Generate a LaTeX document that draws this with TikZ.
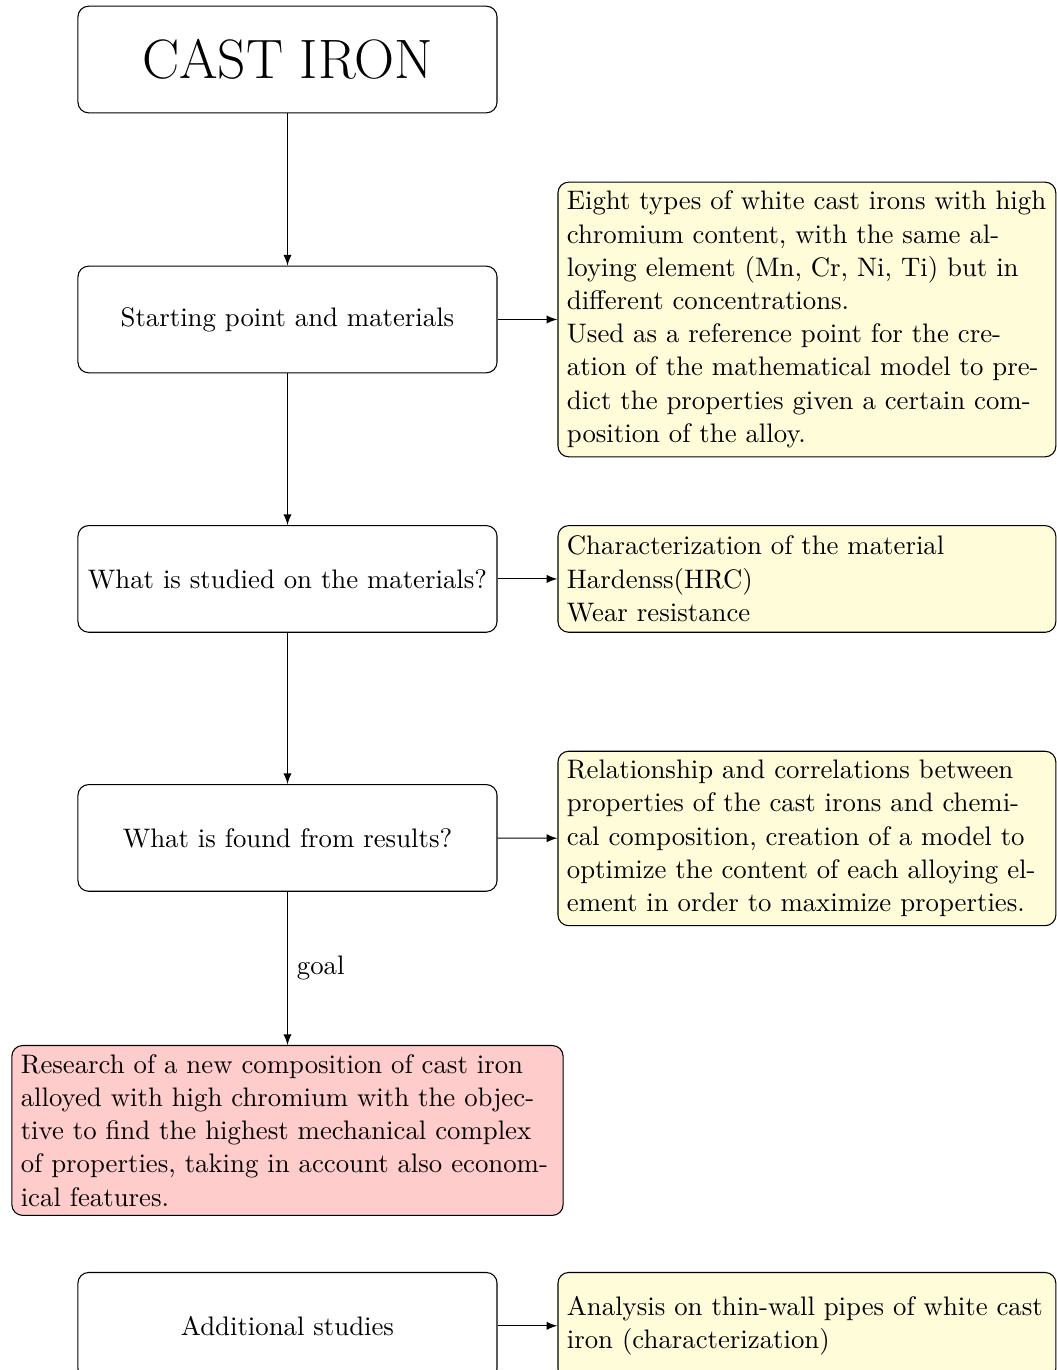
\documentclass[tikz,border=0pt]{standalone}
\begin{document}
\begin{tikzpicture}[
    block/.style={draw, rounded corners, minimum width=5.5cm, minimum height=1.4cm, align=center},
    note/.style={draw, rounded corners, fill=yellow!15, text width=6.3cm, minimum height=1.4cm, font=\fontsize{10}{12.4}\selectfont},
    target/.style={draw, rounded corners, fill=red!20, text width=7cm, font=\fontsize{10}{12.4}\selectfont}]
  \useasboundingbox (0,0) rectangle (13.87,-17.98);
  \draw
    (3.773,-0.781) node[block] (iron){\huge CAST IRON}
    (3.773,-4.193) node[block] (start){Starting point and materials}
    (3.773,-7.598) node[block] (study){What is studied on the materials?}
    (3.773,-10.997) node[block] (found){What is found from results?}
    (3.773,-14.836) node[target] (research){Research of a new composition of cast iron alloyed with high chromium with the objective to find the highest mechanical complex of properties, taking in account also economical features.}
    (3.773,-17.40) node[block] (extra){Additional studies}
    (10.59,-4.193) node[note] (materials){Eight types of white cast irons with high chromium content, with the same alloying element (Mn, Cr, Ni, Ti) but in different concentrations.\\
      Used as a reference point for the creation of the mathematical model to predict the properties given a certain composition of the alloy.}
    (10.59,-7.598) node[note] (studied){Characterization of the material\\ Hardenss(HRC)\\ Wear resistance}
    (10.59,-11.004) node[note] (results){Relationship and correlations between properties of the cast irons and chemical composition, creation of a model to optimize the content of each alloying element in order to maximize properties.}
    (10.59,-17.40) node[note] (pipes){Analysis on thin-wall pipes of white cast iron (characterization)};
  \begin{scope}[-latex]
    \draw (iron) to (start);
    \draw (start) to (study);
    \draw (study) to (found);
    \draw (found) to node[right]{goal} (research);
    \draw (start) to (materials);
    \draw (study) to (studied);
    \draw (found) to (results);
    \draw (extra) to (pipes);
  \end{scope}
\end{tikzpicture}
\end{document}
